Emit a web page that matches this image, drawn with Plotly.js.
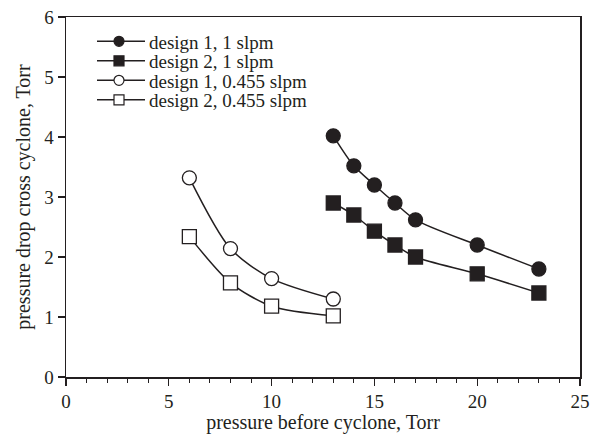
<!DOCTYPE html>
<html>
<head>
<meta charset="utf-8">
<script src="https://cdn.plot.ly/plotly-3.0.1.min.js"></script>
<style>html,body{margin:0;padding:0;background:#fff;}#chart{width:595px;height:434px;}</style>
</head>
<body>
<div id="chart"></div>
<script>
const seriesNames = ["design 1, 1 slpm", "design 2, 1 slpm", "design 1, 0.455 slpm", "design 2, 0.455 slpm"];
const x1slpm = [13, 14, 15, 16, 17, 20, 23];
const d1_1slpm = [4.02, 3.52, 3.2, 2.9, 2.62, 2.2, 1.8];
const d2_1slpm = [2.9, 2.7, 2.43, 2.2, 2.0, 1.72, 1.4];
const x0455 = [6, 8, 10, 13];
const d1_0455 = [3.32, 2.14, 1.64, 1.3];
const d2_0455 = [2.34, 1.57, 1.18, 1.02];
const xTicks = [0, 5, 10, 15, 20, 25];
const yTicks = [0, 1, 2, 3, 4, 5, 6];

const ink = '#231f20';
const FONT = 'Liberation Serif, Times New Roman, serif';
const xs = [x1slpm, x1slpm, x0455, x0455];
const ys = [d1_1slpm, d2_1slpm, d1_0455, d2_0455];
const filled = [true, true, false, false];
const kinds = ['circle', 'square', 'circle', 'square'];

const traces = [];
for (let i = 0; i < 4; i++) {
  traces.push({
    x: xs[i], y: ys[i], type: 'scatter', mode: 'lines+markers',
    name: seriesNames[i], showlegend: false,
    line: {color: ink, width: 1.5, shape: 'spline', smoothing: 0.8},
    marker: {symbol: kinds[i], size: 14, color: filled[i] ? ink : '#ffffff',
             line: {color: ink, width: 1.3}}
  });
}

// plot-area geometry (pixels) for the hand-drawn legend
const W = 595, H = 434, mL = 66, mR = 15, mT = 17, mB = 57;
const pw = W - mL - mR, ph = H - mT - mB;
const px = v => (v - mL) / pw;
const py = v => (H - mB - v) / ph;

const shapes = [], annotations = [];
const legRow0 = 41.3, legStep = 19.5, legX0 = 97, legX1 = 145, legMX = 119, legR = 5, legTextX = 148;
for (let i = 0; i < 4; i++) {
  const yc = legRow0 + i * legStep;
  shapes.push({type: 'line', xref: 'paper', yref: 'paper', x0: px(legX0), x1: px(legX1), y0: py(yc), y1: py(yc),
               line: {color: ink, width: 1.5}});
  shapes.push({type: kinds[i] === 'circle' ? 'circle' : 'rect', xref: 'paper', yref: 'paper',
               x0: px(legMX - legR), x1: px(legMX + legR), y0: py(yc + legR), y1: py(yc - legR),
               fillcolor: filled[i] ? ink : '#ffffff', line: {color: ink, width: 1.2}});
  annotations.push({xref: 'paper', yref: 'paper', x: px(legTextX), y: py(yc + 1), xanchor: 'left', yanchor: 'middle',
                    text: seriesNames[i], showarrow: false, borderpad: 0,
                    font: {size: 19, family: FONT, color: ink}});
}

const layout = {
  width: W, height: H,
  margin: {l: mL, r: mR, t: mT, b: mB},
  paper_bgcolor: '#fff', plot_bgcolor: '#fff',
  font: {family: FONT, color: ink},
  showlegend: false,
  shapes: shapes, annotations: annotations,
  xaxis: {
    range: [0, 25], tickvals: xTicks, ticks: 'outside', ticklen: 7, tickwidth: 1.2, tickcolor: ink,
    showline: true, linecolor: ink, linewidth: 1.5, mirror: true, showgrid: false, zeroline: false,
    tickfont: {size: 19, family: FONT, color: ink},
    minor: {dtick: 1, ticks: 'outside', ticklen: 4, tickcolor: ink, tickwidth: 1, showgrid: false},
    title: {text: 'pressure before cyclone, Torr', font: {size: 20, family: FONT, color: ink}, standoff: 0}
  },
  yaxis: {
    range: [0, 6], tickvals: yTicks, ticks: 'outside', ticklen: 7, tickwidth: 1.2, tickcolor: ink,
    showline: true, linecolor: ink, linewidth: 1.5, mirror: true, showgrid: false, zeroline: false,
    tickfont: {size: 19, family: FONT, color: ink},
    title: {text: 'pressure drop cross cyclone, Torr', font: {size: 20, family: FONT, color: ink}, standoff: 8}
  }
};
Plotly.newPlot('chart', traces, layout, {displayModeBar: false, staticPlot: true});
</script>
</body>
</html>
